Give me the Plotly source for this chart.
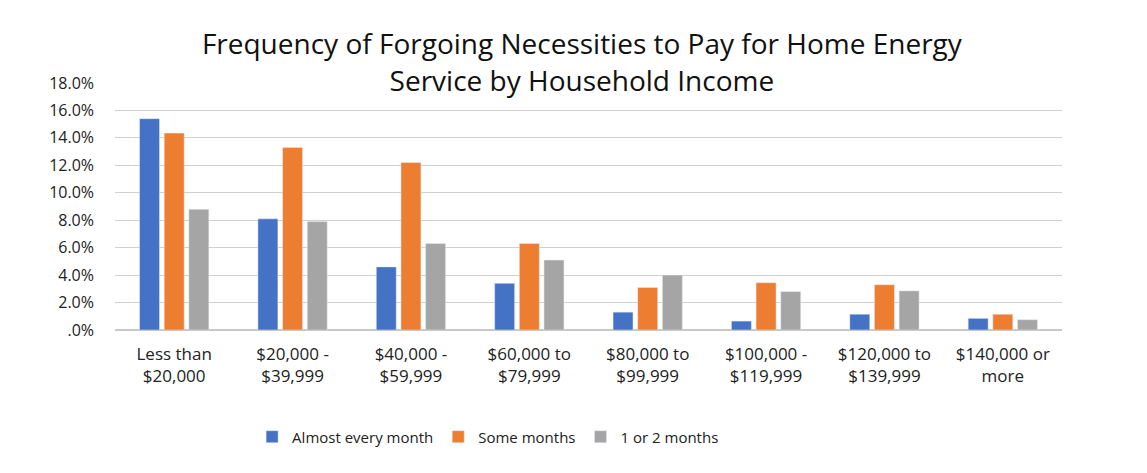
import plotly.graph_objects as go

categories = ["Less than<br>$20,000", "$20,000 -<br>$39,999", "$40,000 -<br>$59,999",
              "$60,000 to<br>$79,999", "$80,000 to<br>$99,999", "$100,000 -<br>$119,999",
              "$120,000 to<br>$139,999", "$140,000 or<br>more"]
almost_every_month = [15.4, 8.1, 4.6, 3.4, 1.3, 0.65, 1.15, 0.85]
some_months = [14.35, 13.3, 12.2, 6.3, 3.1, 3.45, 3.3, 1.15]
one_or_two_months = [8.8, 7.9, 6.3, 5.1, 4.0, 2.8, 2.85, 0.75]
tick_vals = [0, 2, 4, 6, 8, 10, 12, 14, 16, 18]
tick_text = [".0%", "2.0%", "4.0%", "6.0%", "8.0%", "10.0%", "12.0%", "14.0%", "16.0%", "18.0%"]

FONT = "Open Sans, sans-serif"

fig = go.Figure()
fig.add_trace(go.Bar(name="Almost every month", x=categories, y=almost_every_month, marker_color="#4472C4"))
fig.add_trace(go.Bar(name="Some months", x=categories, y=some_months, marker_color="#ED7D31"))
fig.add_trace(go.Bar(name="1 or 2 months", x=categories, y=one_or_two_months, marker_color="#A5A5A5"))

fig.update_layout(
    width=1147, height=473,
    margin=dict(l=115, r=85, t=83, b=143),
    paper_bgcolor="white", plot_bgcolor="white",
    barmode="group", bargap=0.375, bargroupgap=0.19,
    font=dict(family=FONT, color="#222222", size=15),
    title=dict(text="Frequency of Forgoing Necessities to Pay for Home Energy<br>Service by Household Income",
               x=0.493, xref="paper", xanchor="center", y=0.885, yanchor="middle",
               font=dict(size=28, family=FONT, color="#111111")),
    legend=dict(orientation="h", x=0.394, xanchor="center", y=-0.433, yanchor="middle",
                font=dict(size=15, family=FONT), traceorder="normal", itemwidth=30),
    yaxis=dict(range=[0, 18], tickvals=tick_vals, ticktext=tick_text, showgrid=True,
               gridcolor="#D0D0D0", gridwidth=1, zeroline=True, zerolinecolor="#C8C8C8",
               ticks="", tickfont=dict(size=16, color="#222222"), ticklabelstandoff=20),
    xaxis=dict(showline=False, ticks="", tickfont=dict(size=17, color="#222222"), tickangle=0,
               ticklabelstandoff=12),
)
fig.write_html("out.html")
